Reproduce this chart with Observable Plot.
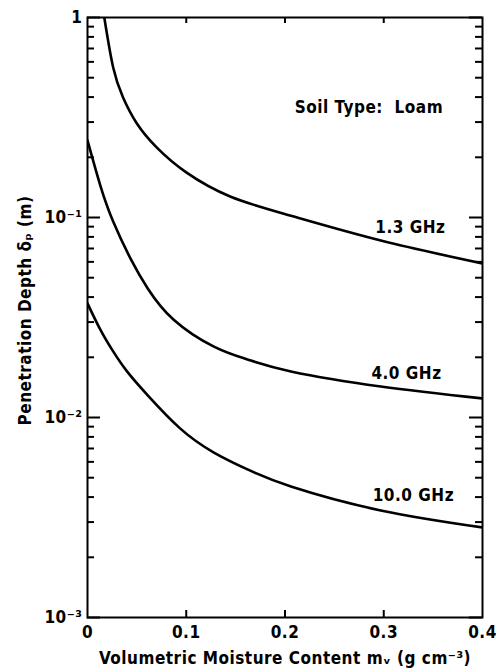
<!DOCTYPE html>
<html><head><meta charset="utf-8">
<script src="https://cdn.jsdelivr.net/npm/d3@7"></script>
<script src="https://cdn.jsdelivr.net/npm/@observablehq/plot@0.6"></script>
<style>body{margin:0;background:#fff} svg text{letter-spacing:0.5px}</style>
</head><body><div id="chart"></div>
<script>
// Series: penetration depth (m) vs volumetric moisture content
const seriesNames = ["1.3 GHz", "4.0 GHz", "10.0 GHz"];
const moisture13 = [0.017, 0.026, 0.036, 0.05, 0.07, 0.1, 0.145, 0.206, 0.297, 0.4];
const depth13    = [1.0, 0.562, 0.398, 0.295, 0.224, 0.168, 0.127, 0.102, 0.0767, 0.0589];
const moisture40 = [0, 0.013, 0.026, 0.044, 0.061, 0.087, 0.128, 0.162, 0.206, 0.297, 0.4];
const depth40    = [0.243, 0.1445, 0.0955, 0.0617, 0.0442, 0.0309, 0.0226, 0.0195, 0.0170, 0.01429, 0.01245];
const moisture100 = [0, 0.013, 0.026, 0.04, 0.061, 0.094, 0.128, 0.162, 0.206, 0.297, 0.4];
const depth100    = [0.0372, 0.0275, 0.0214, 0.0170, 0.0129, 0.0088, 0.00668, 0.0055, 0.00452, 0.00343, 0.00282];

// Annotation anchors (data units)
const labelMoisture = [0.327, 0.323, 0.33];
const labelDepth = [0.089, 0.0166, 0.00407];
const noteText = "Soil Type:  Loam";
const noteMoisture = 0.285;
const noteDepth = 0.355;
const yLabelDepth = 0.0343;

// Ticks
const xTicks = [0, 0.1, 0.2, 0.3, 0.4];
const xTickLabels = ["0", "0.1", "0.2", "0.3", "0.4"];
const xInnerTicks = [0.1, 0.2, 0.3];
const yMajor = [1, 0.1, 0.01, 0.001];
const yMajorLabels = ["1", "10\u207B\u00B9", "10\u207B\u00B2", "10\u207B\u00B3"];
const yMinor = [0.002,0.003,0.004,0.005,0.006,0.007,0.008,0.009,
                0.02,0.03,0.04,0.05,0.06,0.07,0.08,0.09,
                0.2,0.3,0.4,0.5,0.6,0.7,0.8,0.9];

const xLabel = "Volumetric Moisture Content m\u1D65 (g cm\u207B\u00B3)";
const yLabel = "Penetration Depth \u03B4\u209A (m)";

const rows = [
  ...moisture13.map((m, i) => ({series: seriesNames[0], m, d: depth13[i]})),
  ...moisture40.map((m, i) => ({series: seriesNames[1], m, d: depth40[i]})),
  ...moisture100.map((m, i) => ({series: seriesNames[2], m, d: depth100[i]}))
];
const labels = seriesNames.map((s, i) => ({s, m: labelMoisture[i], d: labelDepth[i]}));

const FONT = '"DejaVu Sans Condensed", "Liberation Sans Narrow", "DejaVu Sans", sans-serif';
const INK = "#000";
const W = 496, H = 672, ML = 87, MR = 14, MT = 17, MB = 55;
const PW = W - ML - MR, PH = H - MT - MB;
const TW = 2;

const chart = Plot.plot({
  width: W, height: H,
  marginLeft: ML, marginRight: MR, marginTop: MT, marginBottom: MB,
  style: {fontFamily: FONT, fontSize: "17px", fontWeight: "bold", color: INK, background: "#fff"},
  x: {domain: [0, 0.4]},
  y: {type: "log", domain: [0.001, 1]},
  marks: [
    Plot.axisY({ticks: yMajor, tickSize: 0, tickPadding: 5,
      tickFormat: (d) => yMajorLabels[yMajor.indexOf(d)], label: null, fontSize: 17}),
    Plot.axisX({ticks: xTicks, tickSize: 0, tickPadding: 8,
      tickFormat: (d) => xTickLabels[xTicks.indexOf(d)],
      label: xLabel, labelAnchor: "center", labelArrow: "none", labelOffset: 46, fontSize: 17}),
    Plot.text([yLabel], {text: (d) => d, y: () => yLabelDepth, frameAnchor: "left", dx: -62,
      rotate: -90, textAnchor: "middle", fontSize: 17, fill: INK}),
    // inward tick marks
    Plot.tickY(yMajor, {y: (d) => d, insetRight: PW - 13, stroke: INK, strokeWidth: TW}),
    Plot.tickY(yMinor, {y: (d) => d, insetRight: PW - 7, stroke: INK, strokeWidth: TW}),
    Plot.tickY(yMajor, {y: (d) => d, insetLeft: PW - 13, stroke: INK, strokeWidth: TW}),
    Plot.tickY(yMinor, {y: (d) => d, insetLeft: PW - 7, stroke: INK, strokeWidth: TW}),
    Plot.tickX(xInnerTicks, {x: (d) => d, insetTop: PH - 7, stroke: INK, strokeWidth: TW}),
    Plot.tickX(xInnerTicks, {x: (d) => d, insetBottom: PH - 6, stroke: INK, strokeWidth: TW}),
    Plot.frame({stroke: INK, strokeWidth: 2}),
    Plot.line(rows, {x: "m", y: "d", z: "series", curve: "natural", stroke: INK, strokeWidth: 2.6, clip: true}),
    Plot.text(labels, {x: "m", y: "d", text: "s", fontSize: 17, fill: INK, textAnchor: "middle"}),
    Plot.text([noteText], {x: () => noteMoisture, y: () => noteDepth, text: (d) => d, fontSize: 17, fill: INK, textAnchor: "middle"})
  ]
});
document.getElementById("chart").appendChild(chart);
</script>
</body></html>
